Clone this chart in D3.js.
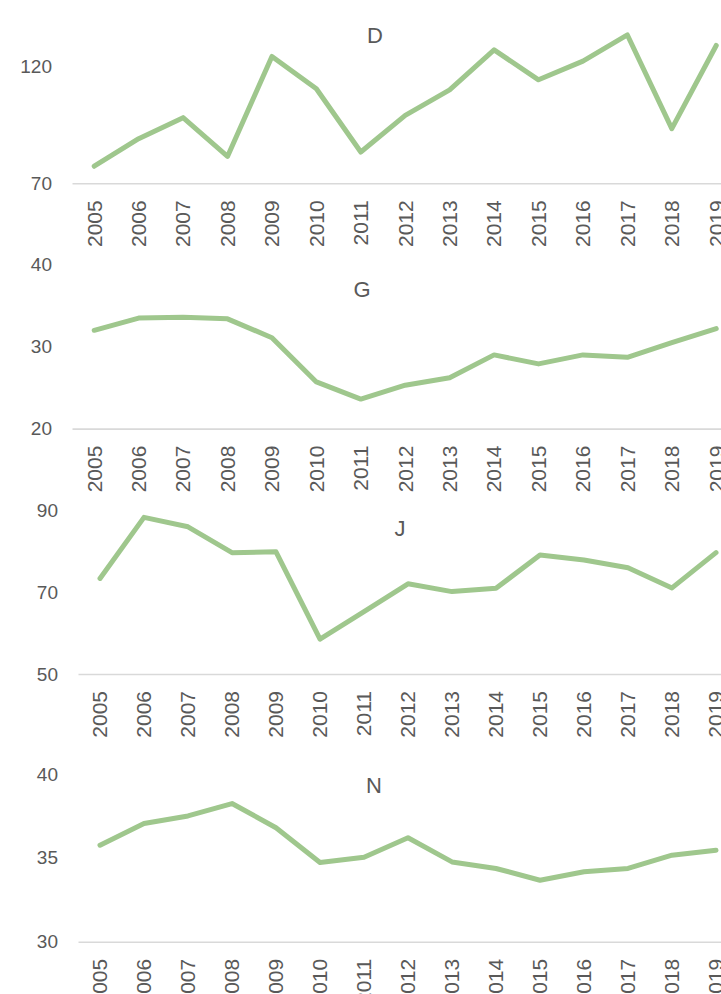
<!DOCTYPE html>
<html>
<head>
<meta charset="utf-8">
<script src="https://cdn.jsdelivr.net/npm/d3@7"></script>
<style>
  html, body { margin: 0; padding: 0; background: #ffffff; overflow: hidden; }
  svg { display: block; }
  text { font-family: "Liberation Sans", Arial, sans-serif; fill: #595959; }
</style>
</head>
<body>
<svg id="chart" width="721" height="994"></svg>
<script>
// ---- data ----
const years = ["2005","2006","2007","2008","2009","2010","2011","2012","2013","2014","2015","2016","2017","2018","2019"];

const seriesD = [77.3, 89.1, 98.1, 81.5, 124.3, 110.5, 83.4, 99.1, 110.0, 127.1, 114.3, 122.3, 133.5, 93.4, 129.0];
const seriesG = [32.0, 33.5, 33.6, 33.4, 31.1, 25.7, 23.6, 25.3, 26.2, 29.0, 27.9, 29.0, 28.7, 30.5, 32.2];
const seriesJ = [73.3, 88.2, 85.9, 79.6, 79.8, 58.5, 65.2, 72.0, 70.1, 70.9, 79.0, 77.8, 75.9, 71.0, 79.6];
const seriesN = [35.76, 37.05, 37.5, 38.24, 36.8, 34.73, 35.04, 36.2, 34.76, 34.37, 33.67, 34.17, 34.37, 35.16, 35.46];

const titles = ["D", "G", "J", "N"];
const ticksD = [70, 120];
const ticksG = [20, 30, 40];
const ticksJ = [50, 70, 90];
const ticksN = [30, 35, 40];

// ---- layout (positions only) ----
const panels = [
  { title: titles[0], values: seriesD, ticks: ticksD, left: 72, step: 44.43, bottom: 183.3, top: 66.5, titleX: 375, titleY: 43 },
  { title: titles[1], values: seriesG, ticks: ticksG, left: 72, step: 44.43, bottom: 428.6, top: 264.8, titleX: 362, titleY: 297 },
  { title: titles[2], values: seriesJ, ticks: ticksJ, left: 78, step: 44.0,  bottom: 674.0, top: 510.0, titleX: 400, titleY: 536 },
  { title: titles[3], values: seriesN, ticks: ticksN, left: 78, step: 44.0,  bottom: 941.8, top: 774.0, titleX: 374, titleY: 793 }
];

const svg = d3.select("#chart");
const lineColor = "#9fc78d";

panels.forEach(p => {
  const g = svg.append("g");
  const x = d3.scaleBand()
    .domain(years)
    .range([p.left, p.left + p.step * years.length])
    .paddingInner(0).paddingOuter(0);
  const yMin = d3.min(p.ticks), yMax = d3.max(p.ticks);
  const y = d3.scaleLinear().domain([yMin, yMax]).range([p.bottom, p.top]);

  // title
  g.append("text")
    .attr("x", p.titleX).attr("y", p.titleY)
    .attr("text-anchor", "middle")
    .style("font-size", "22px")
    .text(p.title);

  // y tick labels (no axis line)
  const yAxis = d3.axisLeft(y).tickValues(p.ticks).tickSize(0).tickPadding(0).tickFormat(d3.format("d"));
  const yg = g.append("g").attr("transform", `translate(${p.left - 20},0)`).call(yAxis);
  yg.select(".domain").remove();
  yg.selectAll("text")
    .style("font-size", "19px")
    .style("font-family", "'Liberation Sans', Arial, sans-serif")
    .attr("fill", "#595959");

  // x axis
  const xAxis = d3.axisBottom(x).tickSize(0).tickPadding(0);
  const xg = g.append("g").attr("transform", `translate(0,${p.bottom})`).call(xAxis);
  xg.select(".domain")
    .attr("stroke", "#d9d9d9")
    .attr("stroke-width", 1.6);
  xg.selectAll("text")
    .style("font-size", "21px")
    .style("font-family", "'Liberation Sans', Arial, sans-serif")
    .attr("fill", "#595959")
    .attr("transform", "rotate(-90)")
    .attr("text-anchor", "end")
    .attr("dy", "0.35em")
    .attr("x", -17)
    .attr("y", 0);

  // line
  const line = d3.line()
    .x((d, i) => x(years[i]) + x.bandwidth() / 2)
    .y(d => y(d));
  g.append("path")
    .datum(p.values)
    .attr("d", line)
    .attr("fill", "none")
    .attr("stroke", lineColor)
    .attr("stroke-width", 5)
    .attr("stroke-linejoin", "round")
    .attr("stroke-linecap", "round");
});
</script>
</body>
</html>
